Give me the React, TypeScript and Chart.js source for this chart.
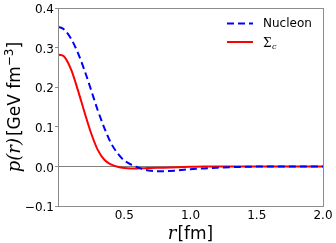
import React, { useEffect, useRef } from "react";
import { Chart, registerables } from "chart.js";

Chart.register(...registerables);

// r in fm
const R = [0, 0.025, 0.05, 0.1, 0.15, 0.2, 0.25, 0.3, 0.35, 0.4, 0.45, 0.5, 0.55, 0.6, 0.65, 0.7, 0.8, 0.9, 1.0, 1.1, 1.2, 1.4, 1.6, 1.8, 2.0];
// p(r) in GeV fm^-3
const NUCLEON = [0.352, 0.3505, 0.345, 0.322, 0.287, 0.243, 0.193, 0.142, 0.097, 0.059, 0.033, 0.015, 0.005, -0.002, -0.008, -0.011, -0.012, -0.010, -0.007, -0.005, -0.003, -0.001, 0, 0, 0];
const SIGMA_C = [0.283, 0.2815, 0.2765, 0.244, 0.193, 0.137, 0.084, 0.042, 0.017, 0.005, -0.001, -0.004, -0.005, -0.005, -0.0045, -0.004, -0.003, -0.002, -0.001, 0, 0, 0, 0, 0, 0];

const X_TICKS = [0.5, 1.0, 1.5, 2.0];
const Y_TICKS = [-0.1, 0.0, 0.1, 0.2, 0.3, 0.4];

const LABEL_NUCLEON = "Nucleon";
const SANS = "'DejaVu Sans', sans-serif";
const SERIF = "'DejaVu Serif', serif";
const FRAME = "#8c8c8c";

const fmt = (v: number) => {
  const s = Math.abs(v).toFixed(1);
  return v < -1e-9 ? "\u2212" + s : s;
};

const decorPlugin = {
  id: "decor",
  beforeDatasetsDraw(chart: any) {
    const { ctx, chartArea: a, scales } = chart;
    const y0 = Math.round(scales.y.getPixelForValue(0)) + 0.5;
    ctx.save();
    ctx.strokeStyle = "#808080";
    ctx.lineWidth = 1;
    ctx.beginPath();
    ctx.moveTo(a.left, y0);
    ctx.lineTo(a.right, y0);
    ctx.stroke();
    ctx.restore();
  },
  afterDatasetsDraw(chart: any) {
    const { ctx, chartArea: a } = chart;
    ctx.save();
    ctx.strokeStyle = FRAME;
    ctx.lineWidth = 1;
    ctx.strokeRect(Math.round(a.left) + 0.5, Math.round(a.top) + 0.5, Math.round(a.right - a.left), Math.round(a.bottom - a.top));
    ctx.restore();
  },
  afterDraw(chart: any) {
    const { ctx, chartArea: a } = chart;
    ctx.save();
    ctx.fillStyle = "#000";
    ctx.textBaseline = "alphabetic";

    // Y title, rotated
    const cy = (a.top + a.bottom) / 2;
    ctx.translate(20, cy);
    ctx.rotate(-Math.PI / 2);
    const pieces = [
      { t: "p(r)", f: `italic 18px ${SERIF}`, dy: 0, gap: 2 },
      { t: "[GeV fm", f: `17px ${SANS}`, dy: 0, gap: 0 },
      { t: "\u22123", f: `12px ${SANS}`, dy: -7, gap: 0 },
      { t: "]", f: `17px ${SANS}`, dy: 0, gap: 0 },
    ];
    let total = 0;
    for (const p of pieces) {
      ctx.font = p.f;
      total += ctx.measureText(p.t).width + p.gap;
    }
    let x = -total / 2;
    for (const p of pieces) {
      ctx.font = p.f;
      ctx.fillText(p.t, x, p.dy);
      x += ctx.measureText(p.t).width + p.gap;
    }
    ctx.setTransform(1, 0, 0, 1, 0, 0);

    // X title
    const cx = (a.left + a.right) / 2;
    const xp = [
      { t: "r", f: `italic 18px ${SERIF}`, gap: 1 },
      { t: "[fm]", f: `17px ${SANS}`, gap: 0 },
    ];
    let tw = 0;
    for (const p of xp) {
      ctx.font = p.f;
      tw += ctx.measureText(p.t).width + p.gap;
    }
    let xx = cx - tw / 2;
    for (const p of xp) {
      ctx.font = p.f;
      ctx.fillText(p.t, xx, 239);
      xx += ctx.measureText(p.t).width + p.gap;
    }

    // Legend
    const lx0 = 227, lx1 = 253, tx = 263;
    const ly1 = 23.5, ly2 = 42;
    ctx.lineWidth = 2;
    ctx.strokeStyle = "#0000ff";
    ctx.setLineDash([7, 4]);
    ctx.beginPath();
    ctx.moveTo(lx0, ly1);
    ctx.lineTo(lx1, ly1);
    ctx.stroke();
    ctx.setLineDash([]);
    ctx.strokeStyle = "#ff0000";
    ctx.beginPath();
    ctx.moveTo(lx0, ly2);
    ctx.lineTo(lx1, ly2);
    ctx.stroke();
    ctx.textBaseline = "middle";
    ctx.font = `12px ${SANS}`;
    ctx.fillText(LABEL_NUCLEON, tx, ly1 + 0.5);
    ctx.textBaseline = "alphabetic";
    ctx.font = `12px ${SERIF}`;
    ctx.fillText("\u03A3", tx, ly2 + 4.5);
    const sw = ctx.measureText("\u03A3").width;
    ctx.font = `italic 8px ${SERIF}`;
    ctx.fillText("c", tx + sw + 0.5, ly2 + 7);
    ctx.restore();
  },
};

export default function App() {
  const ref = useRef<HTMLCanvasElement | null>(null);
  useEffect(() => {
    document.body.style.margin = "0";
    const canvas = ref.current;
    if (!canvas) return;
    const chart = new Chart(canvas, {
      type: "line",
      data: {
        datasets: [
          {
            label: LABEL_NUCLEON,
            data: R.map((r, i) => ({ x: r, y: NUCLEON[i] })),
            borderColor: "#0000ff",
            borderWidth: 2,
            borderDash: [7, 4],
            pointRadius: 0,
            fill: false,
            cubicInterpolationMode: "monotone",
          },
          {
            label: "\u03A3c",
            data: R.map((r, i) => ({ x: r, y: SIGMA_C[i] })),
            borderColor: "#ff0000",
            borderWidth: 2,
            pointRadius: 0,
            fill: false,
            cubicInterpolationMode: "monotone",
          },
        ],
      },
      options: {
        animation: false,
        responsive: false,
        devicePixelRatio: 1,
        layout: { padding: { top: 7, right: 13, left: 0, bottom: 0 } },
        plugins: { legend: { display: false }, tooltip: { enabled: false } },
        scales: {
          x: {
            type: "linear",
            min: 0,
            max: 2,
            afterBuildTicks: (s: any) => {
              s.ticks = X_TICKS.map((v) => ({ value: v }));
            },
            afterFit: (s: any) => {
              s.height = 37;
            },
            grid: { display: true, drawOnChartArea: false, drawTicks: false, color: FRAME },
            border: { display: false },
            ticks: {
              color: "#000",
              font: { family: SANS, size: 12 },
              padding: 3,
              maxRotation: 0,
              autoSkip: false,
              callback: (v: any) => fmt(Number(v)),
            },
          },
          y: {
            type: "linear",
            min: -0.1,
            max: 0.4,
            afterBuildTicks: (s: any) => {
              s.ticks = Y_TICKS.map((v) => ({ value: v }));
            },
            afterFit: (s: any) => {
              s.width = 58;
            },
            grid: { display: true, drawOnChartArea: false, drawTicks: true, tickLength: 3, color: FRAME },
            border: { display: false },
            ticks: {
              color: "#000",
              font: { family: SANS, size: 12 },
              padding: 1,
              labelOffset: 2,
              autoSkip: false,
              callback: (v: any) => fmt(Number(v)),
            },
          },
        },
      },
      plugins: [decorPlugin],
    } as any);
    return () => chart.destroy();
  }, []);
  return (
    <canvas
      ref={ref}
      width={336}
      height={243}
      style={{ display: "block", position: "absolute", left: 0, top: 0, width: 336, height: 243 }}
    />
  );
}
